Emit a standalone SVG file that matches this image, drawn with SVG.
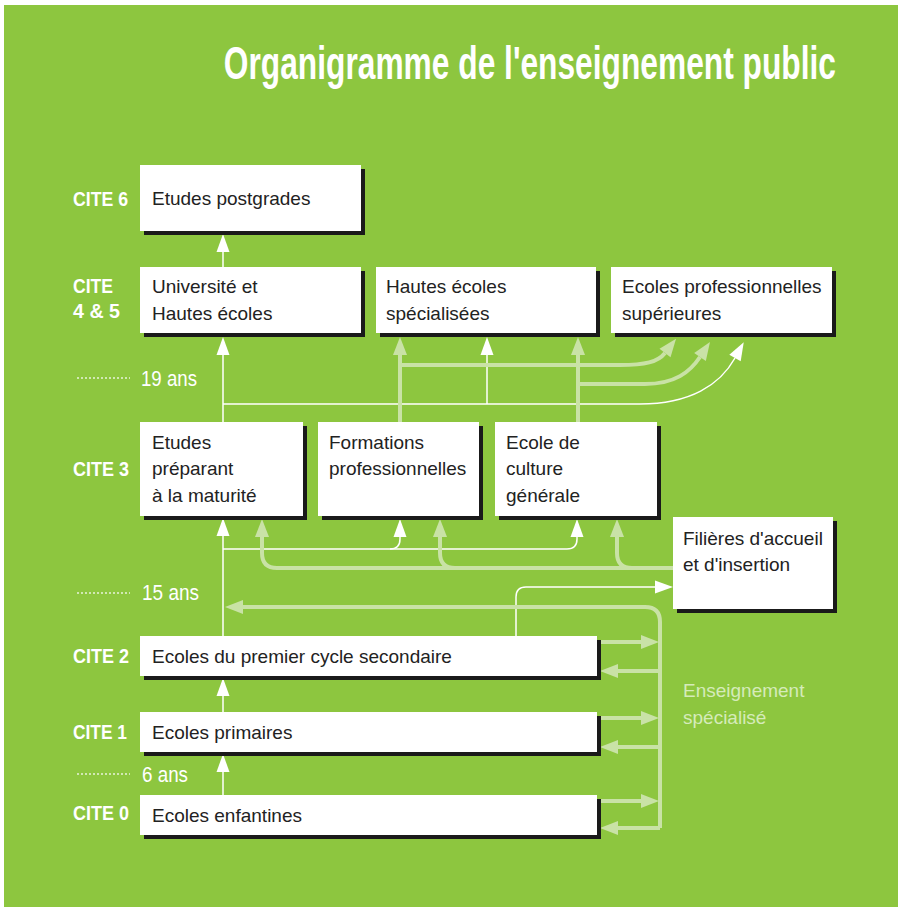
<svg xmlns="http://www.w3.org/2000/svg" width="898" height="907" viewBox="0 0 898 907">
<style>
.bg{fill:#8DC63F}
.box{fill:#ffffff}
.sh{fill:#1a1a1a}
.t{font-family:"Liberation Sans",Arial,sans-serif;font-size:19px;fill:#222}
.cite{font-family:"Liberation Sans",Arial,sans-serif;font-weight:bold;font-size:21px;fill:#fff}
.age{font-family:"Liberation Sans",Arial,sans-serif;font-size:22px;fill:#fff}
.title{font-family:"Liberation Sans",Arial,sans-serif;font-weight:bold;font-size:46px;fill:#fff}
.spec{font-family:"Liberation Sans",Arial,sans-serif;font-size:19px;fill:#D5EBBA}
.w{fill:none;stroke:#fff;stroke-width:1.5}
.p{fill:none;stroke:#C9E2A6;stroke-width:4}
.dot{fill:none;stroke:#E8F3DA;stroke-width:1.5;stroke-dasharray:2 2}
.aw{marker-end:url(#aw)}
.ap{marker-end:url(#ap)}
</style>
<defs>
<marker id="aw" markerUnits="userSpaceOnUse" markerWidth="20" markerHeight="14" refX="0" refY="6.5" orient="auto" overflow="visible"><path d="M0,0 L18,6.5 L0,13 z" fill="#fff"/></marker>
<marker id="ap" markerUnits="userSpaceOnUse" markerWidth="20" markerHeight="15" refX="0" refY="7" orient="auto" overflow="visible"><path d="M0,0 L18,7 L0,14 z" fill="#C9E2A6"/></marker>
</defs>
<rect x="4" y="5" width="894" height="902" class="bg"/>
<text class="title" transform="translate(836,79) scale(0.69,1)" x="0" y="0" text-anchor="end">Organigramme de l'enseignement public</text>

<g id="labels">
<text class="cite" x="73" y="206" textLength="55" lengthAdjust="spacingAndGlyphs">CITE 6</text>
<text class="cite" x="73" y="293" textLength="40" lengthAdjust="spacingAndGlyphs">CITE</text>
<text class="cite" x="73" y="318" textLength="47" lengthAdjust="spacingAndGlyphs">4 &amp; 5</text>
<text class="cite" x="73" y="476" textLength="56" lengthAdjust="spacingAndGlyphs">CITE 3</text>
<text class="cite" x="73" y="663" textLength="56" lengthAdjust="spacingAndGlyphs">CITE 2</text>
<text class="cite" x="73" y="739" textLength="54" lengthAdjust="spacingAndGlyphs">CITE 1</text>
<text class="cite" x="73" y="820" textLength="56" lengthAdjust="spacingAndGlyphs">CITE 0</text>
<path class="dot" d="M77,378 H130 M77,593 H130 M77,774 H130"/>
<text class="age" x="141" y="386" textLength="56" lengthAdjust="spacingAndGlyphs">19 ans</text>
<text class="age" x="142" y="600" textLength="57" lengthAdjust="spacingAndGlyphs">15 ans</text>
<text class="age" x="142" y="782" textLength="46" lengthAdjust="spacingAndGlyphs">6 ans</text>
<text class="spec" x="683" y="697">Enseignement</text>
<text class="spec" x="683" y="724">spécialisé</text>
</g>

<g id="connectors">
<path class="w aw" d="M223,795 V772"/>
<path class="w aw" d="M223,712 V696"/>
<path class="w aw" d="M223,636 V536"/>
<path class="w aw" d="M223,422 V355"/>
<path class="w aw" d="M223,267 V252"/>
<path class="w aw" d="M487,404 V355"/>
<path class="w aw" d="M223,404 H640 C690,404 720,385 735,358"/>
<path class="w aw" d="M223,549 H390 Q400,549 400,539 V537"/>
<path class="w aw" d="M390,549 H567 Q577,549 577,539 V537"/>
<path class="w aw" d="M516,636 V597 Q516,587 526,587 H655"/>
<path class="p ap" d="M400,422 V355"/>
<path class="p ap" d="M400,365 H620 C645,365 658,362 665,353"/>
<path class="p ap" d="M578,422 V355"/>
<path class="p ap" d="M578,384 H645 C675,384 690,372 700,357"/>
<path class="p ap" d="M673,568 H277 Q262,568 262,553 V537"/>
<path class="p ap" d="M455,568 Q440,568 440,553 V537"/>
<path class="p ap" d="M632,568 Q617,568 617,553 V537"/>
<path class="p ap" d="M660,828 V622 Q660,607 645,607 H243"/>
<path class="p ap" d="M660,671 H618"/>
<path class="p ap" d="M660,747 H618"/>
<path class="p ap" d="M660,828 H618"/>
<path class="p ap" d="M600,642 H641"/>
<path class="p ap" d="M600,718 H641"/>
<path class="p ap" d="M600,801 H641"/>
</g>

<g id="cite6">
<rect class="sh" x="144" y="169" width="221" height="66"/>
<rect class="box" x="140" y="165" width="221" height="66"/>
<text class="t" x="152" y="205">Etudes postgrades</text>
</g>
<g id="universite">
<rect class="sh" x="144" y="271" width="221" height="66"/>
<rect class="box" x="140" y="267" width="221" height="66"/>
<text class="t" x="152" y="293">Université et</text>
<text class="t" x="152" y="320">Hautes écoles</text>
</g>
<g id="hes">
<rect class="sh" x="380" y="271" width="220" height="66"/>
<rect class="box" x="376" y="267" width="220" height="66"/>
<text class="t" x="386" y="293">Hautes écoles</text>
<text class="t" x="386" y="320">spécialisées</text>
</g>
<g id="eps">
<rect class="sh" x="615" y="271" width="221" height="66"/>
<rect class="box" x="611" y="267" width="221" height="66"/>
<text class="t" x="622" y="293">Ecoles professionnelles</text>
<text class="t" x="622" y="320">supérieures</text>
</g>
<g id="maturite">
<rect class="sh" x="144" y="426" width="163" height="94"/>
<rect class="box" x="140" y="422" width="163" height="94"/>
<text class="t" x="152" y="449">Etudes</text>
<text class="t" x="152" y="475">préparant</text>
<text class="t" x="152" y="502">à la maturité</text>
</g>
<g id="formations">
<rect class="sh" x="322" y="426" width="161" height="94"/>
<rect class="box" x="318" y="422" width="161" height="94"/>
<text class="t" x="329" y="449">Formations</text>
<text class="t" x="329" y="475">professionnelles</text>
</g>
<g id="ecg">
<rect class="sh" x="499" y="426" width="162" height="94"/>
<rect class="box" x="495" y="422" width="162" height="94"/>
<text class="t" x="506" y="449">Ecole de</text>
<text class="t" x="506" y="475">culture</text>
<text class="t" x="506" y="502">générale</text>
</g>
<g id="filieres">
<rect class="sh" x="677" y="521" width="160" height="92"/>
<rect class="box" x="673" y="517" width="160" height="92"/>
<text class="t" x="683" y="545">Filières d'accueil</text>
<text class="t" x="683" y="571">et d'insertion</text>
</g>
<g id="cite2">
<rect class="sh" x="144" y="640" width="457" height="40"/>
<rect class="box" x="140" y="636" width="457" height="40"/>
<text class="t" x="152" y="663">Ecoles du premier cycle secondaire</text>
</g>
<g id="cite1">
<rect class="sh" x="144" y="716" width="457" height="40"/>
<rect class="box" x="140" y="712" width="457" height="40"/>
<text class="t" x="152" y="739">Ecoles primaires</text>
</g>
<g id="cite0">
<rect class="sh" x="144" y="799" width="457" height="40"/>
<rect class="box" x="140" y="795" width="457" height="40"/>
<text class="t" x="152" y="822">Ecoles enfantines</text>
</g>
</svg>
